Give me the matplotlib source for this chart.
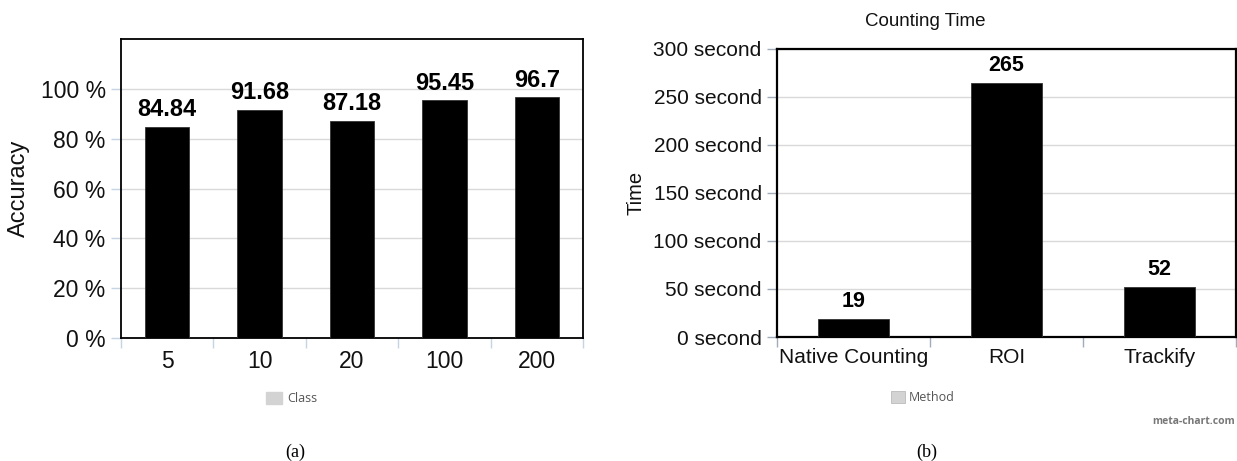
import numpy as np
import matplotlib.pyplot as plt

plt.rcParams['font.family'] = ['Liberation Sans', 'DejaVu Sans']

# data
classes = ['5', '10', '20', '100', '200']
accuracy = [84.84, 91.68, 87.18, 95.45, 96.7]
acc_ticks = [0, 20, 40, 60, 80, 100]

methods = ['Native Counting', 'ROI', 'Trackify']
times = [19, 265, 52]
time_ticks = [0, 50, 100, 150, 200, 250, 300]

W, H = 1237, 461
fig = plt.figure(figsize=(W / 100, H / 100), dpi=100)


def px_axes(x0, y0, x1, y1):
    # pixel box (top-left origin) -> figure fraction
    return fig.add_axes([x0 / W, 1 - y1 / H, (x1 - x0) / W, (y1 - y0) / H])


def style_axes(ax, n, tick_color, spine_w):
    ax.set_xlim(-0.5, n - 0.5)
    for s in ax.spines.values():
        s.set_color('black')
        s.set_linewidth(spine_w)
    ax.grid(axis='y', color='#d9d9d9', linewidth=1.0)
    ax.set_axisbelow(True)
    ax.set_xticks(np.arange(n))
    ax.set_xticks(np.arange(n + 1) - 0.5, minor=True)
    ax.tick_params(axis='x', which='major', length=0, pad=9)
    ax.tick_params(axis='x', which='minor', length=7, color=tick_color, width=1)
    ax.tick_params(axis='y', length=7, color=tick_color, width=1, pad=4)


# ---- (a) accuracy ----
ax1 = px_axes(121, 39, 583, 338)
x1 = np.arange(len(classes))
ax1.bar(x1, accuracy, width=0.48, color='black', edgecolor='#333333', linewidth=0.6, zorder=3)
style_axes(ax1, len(classes), '#c5d5e4', 1.3)
ax1.set_ylim(0, 120)
ax1.set_yticks(acc_ticks)
ax1.set_yticklabels([f'{t} %' for t in acc_ticks], fontsize=16.5, color='#111111')
ax1.set_xticklabels(classes, fontsize=16.5, color='#111111')
ax1.set_ylabel('Accuracy', fontsize=17, color='#111111', labelpad=8)
for xi, v in zip(x1, accuracy):
    ax1.annotate(f'{v:g}', (xi, v), xytext=(0, 4), textcoords='offset points',
                 ha='center', va='bottom', fontsize=17, fontweight='bold')

# ---- (b) counting time ----
ax2 = px_axes(777, 49, 1236, 337)
x2 = np.arange(len(methods))
ax2.bar(x2, times, width=0.47, color='black', edgecolor='#333333', linewidth=0.6, zorder=3)
style_axes(ax2, len(methods), '#9fadba', 1.6)
ax2.set_ylim(0, 300)
ax2.set_yticks(time_ticks)
ax2.set_yticklabels([f'{t} second' for t in time_ticks], fontsize=15, color='#111111')
ax2.set_xticklabels(methods, fontsize=15, color='#111111')
ax2.tick_params(axis='x', which='major', pad=8)
ax2.set_ylabel('Time', fontsize=14.5, color='#111111', labelpad=6)
for xi, v in zip(x2, times):
    ax2.annotate(f'{v}', (xi, v), xytext=(0, 5), textcoords='offset points',
                 ha='center', va='bottom', fontsize=15.5, fontweight='bold')

fig.text(925 / W, 1 - 21 / H, 'Counting Time', ha='center', va='center', fontsize=13.5, color='#111111')

# legends drawn as small gray squares
fig.patches.append(plt.Rectangle((266 / W, 1 - 404 / H), 16 / W, 12 / H,
                                 transform=fig.transFigure, color='#d3d3d3'))
fig.text(287 / W, 1 - 398 / H, 'Class', ha='left', va='center', fontsize=9,
         family='Open Sans', color='#555555')
fig.patches.append(plt.Rectangle((891 / W, 1 - 403 / H), 14 / W, 12 / H,
                                 transform=fig.transFigure, color='#d3d3d3',
                                 ec='#bbbbbb', lw=0.6))
fig.text(909 / W, 1 - 397 / H, 'Method', ha='left', va='center', fontsize=9,
         family='Open Sans', color='#555555')
fig.text(1235 / W, 1 - 422 / H, 'meta-chart.com', ha='right', va='center', fontsize=7.5,
         family='Open Sans', fontweight='bold', color='#777777')

# captions
fig.text(295 / W, 1 - 452 / H, '(a)', ha='center', va='center', fontsize=13,
         family='Liberation Serif')
fig.text(927 / W, 1 - 452 / H, '(b)', ha='center', va='center', fontsize=13,
         family='Liberation Serif')

fig.savefig('out.png', dpi=100)
